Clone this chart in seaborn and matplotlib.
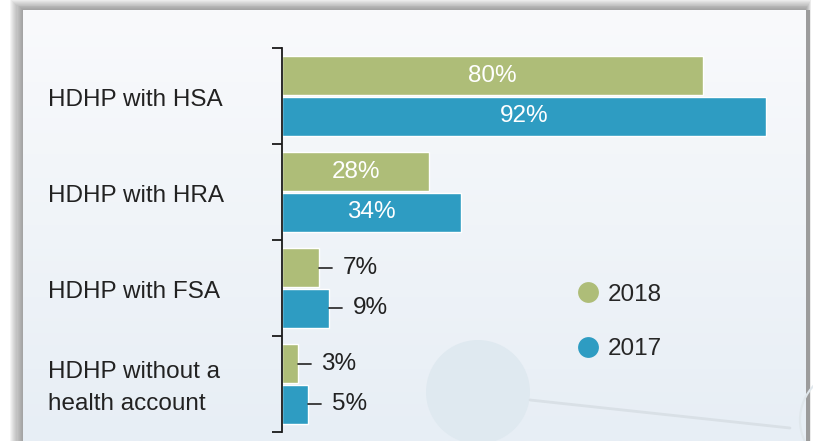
import matplotlib
matplotlib.use("Agg")
import matplotlib.pyplot as plt
import seaborn as sns
import pandas as pd
import numpy as np
from matplotlib.patches import Rectangle, Circle
from matplotlib.lines import Line2D
from matplotlib.colors import LinearSegmentedColormap

categories = ["HDHP with HSA", "HDHP with HRA", "HDHP with FSA", "HDHP without a\nhealth account"]
years = ["2018", "2017"]
values_2018 = [80, 28, 7, 3]
values_2017 = [92, 34, 9, 5]
colors = {"2018": "#AEBD78", "2017": "#2E9CC2"}

df = pd.DataFrame({
    "category": categories * 2,
    "year": ["2018"] * 4 + ["2017"] * 4,
    "value": values_2018 + values_2017,
})

sns.set_style("white")
plt.rcParams["font.family"] = ["Liberation Sans", "DejaVu Sans"]
FS = 17.5
TXT = "#222222"

fig = plt.figure(figsize=(8.13, 4.41), dpi=100)
fig.patch.set_facecolor("white")

# background panel with soft shadow and gradient
bg = fig.add_axes([0, 0, 1, 1], zorder=-10)
bg.set_xlim(0, 813)
bg.set_ylim(441, 0)
bg.axis("off")
for k in range(12, 0, -1):
    bg.add_patch(Rectangle((23 - k * 1.1, 10 - k * 0.9), 782 + k * 1.6, 460,
                           facecolor="#555555", edgecolor="none", alpha=0.06, zorder=0))
bg.add_patch(Rectangle((805, 10), 5, 440, facecolor="#9C9C9C", edgecolor="none", zorder=0.5))
grad = np.linspace(0, 1, 256).reshape(-1, 1)
cm = LinearSegmentedColormap.from_list("g", ["#F9FAFC", "#E7EEF5"])
bg.imshow(grad, cmap=cm, extent=[23, 805, 441, 10], aspect="auto", zorder=1)
# decorative faint shapes
bg.add_patch(Circle((478, 392), 52, facecolor="#DFE9F0", edgecolor="none", zorder=2))
bg.plot([530, 790], [400, 428], color="#D9E0E6", lw=2, zorder=2)
bg.add_patch(Circle((850, 420), 50, facecolor="none", edgecolor="#E0E7EC", lw=1.5, zorder=2))

ax = fig.add_axes([282 / 813, 1 - 432 / 441, 526 / 813, (432 - 48) / 441])
ax.patch.set_alpha(0)
sns.barplot(data=df, y="category", x="value", hue="year", hue_order=years,
            palette=colors, orient="h", width=0.84, gap=0.04, ax=ax, legend=False,
            saturation=1)

ax.set_xlim(0, 100)
ax.set_ylim(3.5, -0.5)
ax.set_xlabel("")
ax.set_ylabel("")
for s in ["top", "right", "bottom"]:
    ax.spines[s].set_visible(False)
ax.spines["left"].set_color("#1A1A1A")
ax.spines["left"].set_linewidth(1.3)
ax.set_xticks([])
ax.set_yticks([])
ax.set_yticks(np.arange(-0.5, 4, 1), minor=True)
ax.tick_params(axis="y", which="minor", direction="out", length=7, width=1.3, color="#1A1A1A", left=True)
ax.tick_params(axis="y", which="major", left=False, labelleft=False)

for i, cat in enumerate(categories):
    fig.text(48 / 813, 1 - (100 + 96 * i) / 441, cat, ha="left", va="center",
             fontsize=FS, color=TXT, linespacing=1.55)

for cont in ax.containers:
    for bar in cont:
        v = bar.get_width()
        yc = bar.get_y() + bar.get_height() / 2
        if v >= 20:
            ax.text(v / 2, yc, f"{v:.0f}%", ha="center", va="center", color="white", fontsize=FS)
        else:
            ax.plot([v, v + 2.5], [yc, yc], color="#333333", lw=1.3, clip_on=False)
            ax.text(v + 4.5, yc, f"{v:.0f}%", ha="left", va="center", color=TXT, fontsize=FS)

handles = [Line2D([0], [0], marker="o", linestyle="", markersize=15,
                  markerfacecolor=colors[y], markeredgecolor="none") for y in years]
fig.legend(handles, years, loc="center left", bbox_to_anchor=(552 / 813, 1 - 322 / 441),
           frameon=False, fontsize=FS, labelspacing=1.35, handletextpad=0.2, handlelength=1.2)

fig.savefig("out.png", dpi=100)
